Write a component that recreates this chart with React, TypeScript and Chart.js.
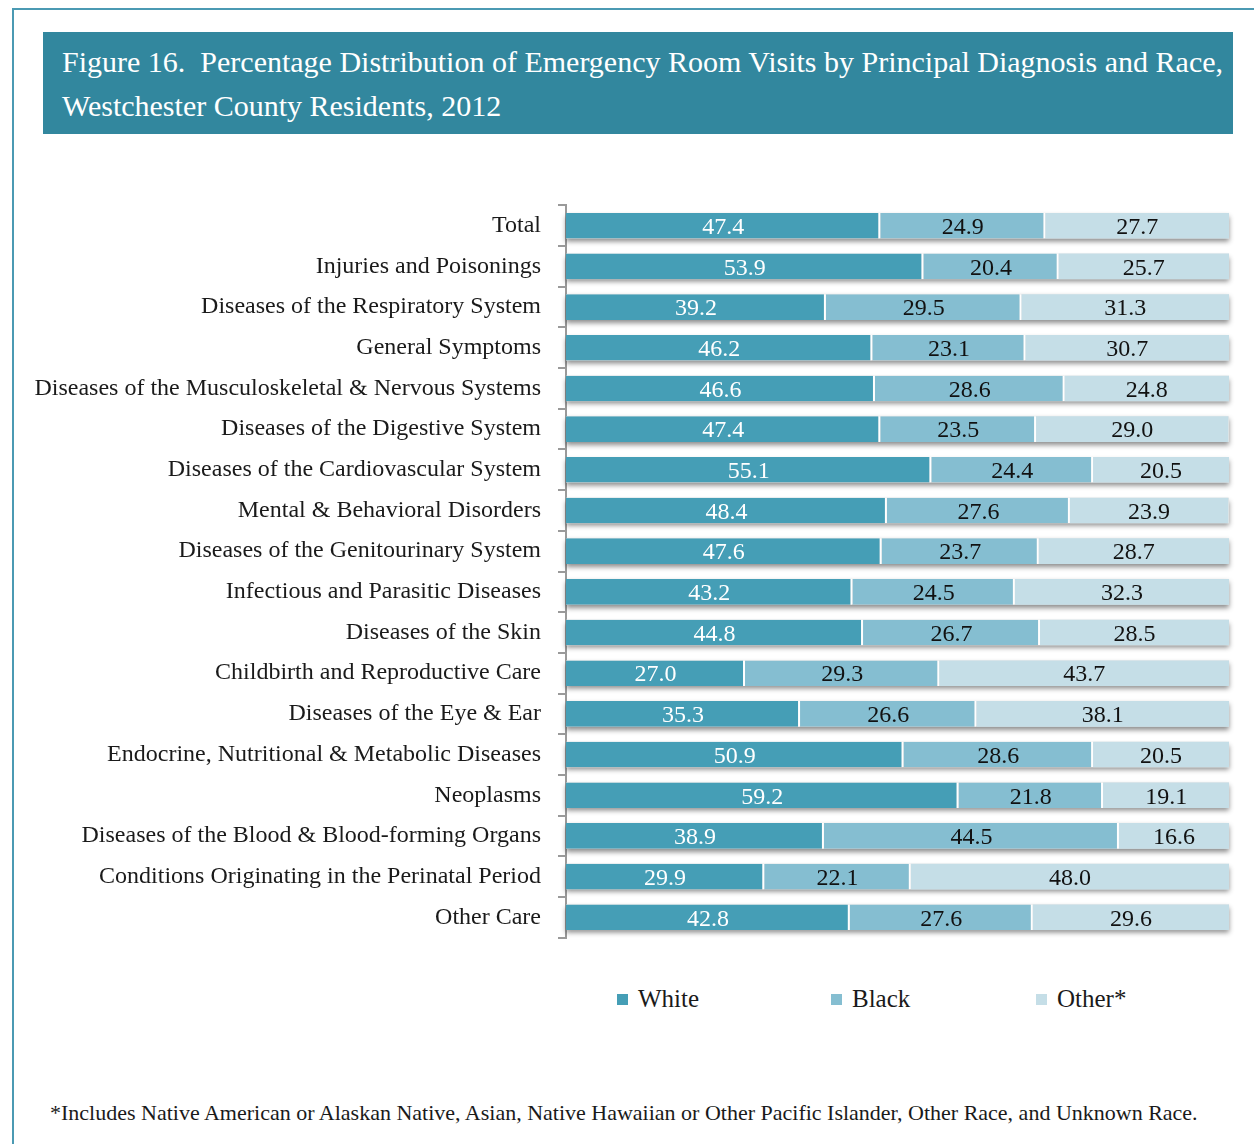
import React, { useEffect, useRef } from "react";
import { Chart, registerables } from "chart.js";

Chart.register(...registerables);

const categories = [
  "Total",
  "Injuries and Poisonings",
  "Diseases of the Respiratory System",
  "General Symptoms",
  "Diseases of the Musculoskeletal & Nervous Systems",
  "Diseases of the Digestive System",
  "Diseases of the Cardiovascular System",
  "Mental & Behavioral Disorders",
  "Diseases of the Genitourinary System",
  "Infectious and Parasitic Diseases",
  "Diseases of the Skin",
  "Childbirth and Reproductive Care",
  "Diseases of the Eye & Ear",
  "Endocrine, Nutritional & Metabolic Diseases",
  "Neoplasms",
  "Diseases of the Blood & Blood-forming Organs",
  "Conditions Originating in the Perinatal Period",
  "Other Care",
];

const whiteValues = [47.4, 53.9, 39.2, 46.2, 46.6, 47.4, 55.1, 48.4, 47.6, 43.2, 44.8, 27.0, 35.3, 50.9, 59.2, 38.9, 29.9, 42.8];
const blackValues = [24.9, 20.4, 29.5, 23.1, 28.6, 23.5, 24.4, 27.6, 23.7, 24.5, 26.7, 29.3, 26.6, 28.6, 21.8, 44.5, 22.1, 27.6];
const otherValues = [27.7, 25.7, 31.3, 30.7, 24.8, 29.0, 20.5, 23.9, 28.7, 32.3, 28.5, 43.7, 38.1, 20.5, 19.1, 16.6, 48.0, 29.6];

const seriesNames = ["White", "Black", "Other*"];
const seriesColors = ["#459EB6", "#85BED1", "#C5DEE7"];
const labelColors = ["#ffffff", "#111111", "#111111"];

const FONT = "'Liberation Serif', 'Times New Roman', serif";

const shadowPlugin = {
  id: "rowShadow",
  beforeDatasetsDraw(chart: any) {
    const ctx = chart.ctx;
    const meta0 = chart.getDatasetMeta(0);
    const xs = chart.scales.x;
    ctx.save();
    ctx.shadowColor = "rgba(0,0,0,0.45)";
    ctx.shadowBlur = 5;
    ctx.shadowOffsetY = 3;
    ctx.shadowOffsetX = 0;
    ctx.fillStyle = "#e6e6e6";
    meta0.data.forEach((el: any) => {
      const { y, height } = el.getProps(["y", "height"], true);
      const x0 = xs.getPixelForValue(0);
      const x1 = xs.getPixelForValue(100);
      ctx.fillRect(x0, y - height / 2, x1 - x0, height);
    });
    ctx.restore();
  },
};

const valueLabelPlugin = {
  id: "valueLabels",
  afterDatasetsDraw(chart: any) {
    const ctx = chart.ctx;
    ctx.save();
    ctx.font = `24px ${FONT}`;
    ctx.textAlign = "center";
    ctx.textBaseline = "middle";
    chart.data.datasets.forEach((ds: any, di: number) => {
      const meta = chart.getDatasetMeta(di);
      meta.data.forEach((el: any, i: number) => {
        const { x, base, y } = el.getProps(["x", "base", "y"], true);
        ctx.fillStyle = labelColors[di];
        ctx.fillText(Number(ds.data[i]).toFixed(1), (x + base) / 2, y + 2);
      });
    });
    ctx.restore();
  },
};

export default function App() {
  const canvasRef = useRef<HTMLCanvasElement | null>(null);

  useEffect(() => {
    if (!canvasRef.current) return;
    const values = [whiteValues, blackValues, otherValues];
    const chart = new Chart(canvasRef.current, {
      type: "bar",
      data: {
        labels: categories,
        datasets: values.map((v, i) => ({
          label: seriesNames[i],
          data: v,
          backgroundColor: seriesColors[i],
          borderColor: "#ffffff",
          borderWidth: i < 2 ? { right: 2, left: 0, top: 0, bottom: 0 } : 0,
          borderSkipped: false,
          categoryPercentage: 1,
          barPercentage: 0.63,
        })),
      },
      options: {
        indexAxis: "y",
        animation: false,
        responsive: false,
        maintainAspectRatio: false,
        layout: { padding: { top: 13, bottom: 11, right: 25, left: 0 } },
        plugins: {
          legend: { display: false },
          tooltip: { enabled: false },
          title: { display: false },
        },
        scales: {
          x: {
            stacked: true,
            min: 0,
            max: 100,
            display: false,
          },
          y: {
            stacked: true,
            afterFit: (scale: any) => {
              scale.width = 566;
            },
            border: { display: true, color: "#9a9a9a", width: 2 },
            grid: {
              display: true,
              drawOnChartArea: false,
              drawTicks: true,
              tickLength: 8,
              color: "#9a9a9a",
              lineWidth: 2,
              offset: true,
            },
            ticks: {
              color: "#1a1a1a",
              padding: 17,
              font: { family: FONT, size: 24 },
              autoSkip: false,
            },
          },
        },
      },
      plugins: [shadowPlugin, valueLabelPlugin],
    } as any);
    return () => chart.destroy();
  }, []);

  const legendItem = (i: number, left: number) => (
    <div
      key={i}
      style={{
        position: "absolute",
        left,
        top: 985,
        display: "flex",
        alignItems: "center",
        fontFamily: FONT,
        fontSize: 25,
        color: "#1a1a1a",
      }}
    >
      <span
        style={{
          display: "inline-block",
          width: 11,
          height: 11,
          background: seriesColors[i],
          marginRight: 10,
        }}
      />
      <span>{seriesNames[i]}</span>
    </div>
  );

  return (
    <div
      style={{
        position: "absolute",
        left: 0,
        top: 0,
        width: 1254,
        height: 1144,
        overflow: "hidden",
        background: "#ffffff",
      }}
    >
      <div
        style={{
          position: "absolute",
          left: 12,
          top: 8,
          width: 1260,
          height: 1160,
          border: "2px solid #4B9AB3",
          boxSizing: "border-box",
        }}
      />
      <div
        style={{
          position: "absolute",
          left: 43,
          top: 32,
          width: 1190,
          height: 102,
          background: "#32879E",
          color: "#ffffff",
          fontFamily: FONT,
          fontSize: 30,
          lineHeight: "44px",
          boxSizing: "border-box",
          padding: "8px 0 0 19px",
          whiteSpace: "nowrap",
        }}
      >
        <div>Figure 16.&nbsp; Percentage Distribution of Emergency Room Visits by Principal Diagnosis and Race,</div>
        <div>Westchester County Residents, 2012</div>
      </div>
      <canvas
        ref={canvasRef}
        width={1254}
        height={795}
        style={{ position: "absolute", left: 0, top: 174, width: 1254, height: 795 }}
      />
      {legendItem(0, 617)}
      {legendItem(1, 831)}
      {legendItem(2, 1036)}
      <div
        style={{
          position: "absolute",
          left: 50,
          top: 1100,
          fontFamily: FONT,
          fontSize: 22,
          color: "#1a1a1a",
          whiteSpace: "nowrap",
        }}
      >
        *Includes Native American or Alaskan Native, Asian, Native Hawaiian or Other Pacific Islander, Other Race, and Unknown Race.
      </div>
    </div>
  );
}
